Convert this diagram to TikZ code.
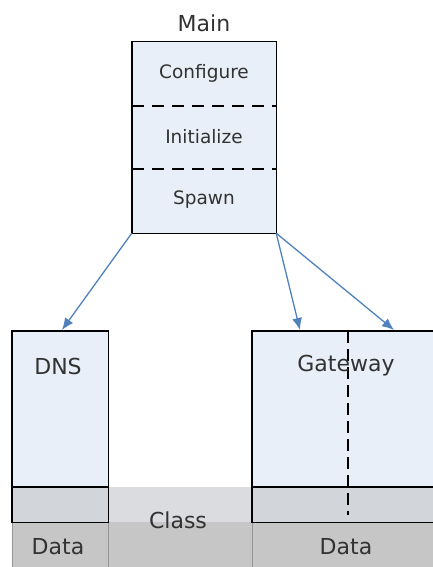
\documentclass[tikz,border=0pt]{standalone}
\usepackage{fontspec}
\setmainfont{DejaVu Sans}
\usetikzlibrary{calc}
\usetikzlibrary{shapes,arrows.meta}

\definecolor{boxblue}{RGB}{233,239,248}
\definecolor{linkblue}{RGB}{79,129,189}
\definecolor{bandgray}{RGB}{210,213,218}
\definecolor{classgray}{RGB}{218,220,224}
\definecolor{datagray}{RGB}{198,198,198}
\definecolor{edgegray}{RGB}{150,150,150}
\definecolor{labelgray}{RGB}{50,50,50}

\begin{document}
\begin{tikzpicture}[x=1pt,y=-1pt,
    boxfill/.style={fill=boxblue,draw=none,inner sep=0pt},
    outline/.style={draw=black,line width=1.4pt},
    link/.style={draw=linkblue,line width=1.3pt,-{Latex[length=12pt,width=10pt]}},
    biglabel/.style={font=\fontsize{22}{24}\selectfont,text=labelgray},
    smalllabel/.style={font=\fontsize{18.5}{20}\selectfont,text=labelgray}]
    \clip (0,0) rectangle (433,567);
    % boxes (fill only, outlines come after the band)
    \node [boxfill,minimum width=144pt,minimum height=191pt] (main) at (204,137.5) {};
    \node [boxfill,minimum width=96pt,minimum height=191pt] (dns) at (60,426.5) {};
    \node [boxfill,minimum width=188pt,minimum height=191pt] (gateway) at (346,426.5) {};
    \coordinate (D1) at (12,487);
    \coordinate (D2) at (108,487);
    \coordinate (G1) at (252,487);
    \coordinate (G2) at (433,487);
    \coordinate (B0) at (12,522);
    \coordinate (B1) at (108,522);
    \coordinate (B2) at (252,522);
    \coordinate (B3) at (433,522);
    % class / data band
      \fill [bandgray] (D1) rectangle (B1);
      \fill [classgray] (D2) rectangle (B2);
      \fill [bandgray] (G1) rectangle (B3);
      \fill [datagray] (B0) rectangle (433,567);
      \draw [edgegray,line width=0.8pt] (B0) -- (12,567);
      \draw [edgegray,line width=0.6pt] (B1) -- (108,567);
      \draw [edgegray,line width=0.8pt] (B2) -- (252,567);
    % outlines
      \draw [outline] (main.north west) rectangle (main.south east);
      \draw [outline] (dns.north west) rectangle (dns.south east);
      \draw [outline] (gateway.north west) rectangle (gateway.south east);
      \draw [outline] (D1) -- (D2);
      \draw [outline] (G1) -- (G2);
      \draw [outline,dash pattern=on 12pt off 8pt] (132,106) -- (276,106);
      \draw [outline,dash pattern=on 12pt off 8pt] (132,169) -- (276,169);
      \draw [outline,dash pattern=on 12pt off 6pt] (348,331) -- (348,515);
    % links
    \coordinate (dnsin) at (62,330);
    \coordinate (gwin1) at (300,330);
    \coordinate (gwin2) at (394,330);
      \draw [link] (main.south west) -- (dnsin);
      \draw [link] (main.south east) -- (gwin1);
      \draw [link] (main.south east) -- (gwin2);
    % labels
      \node [biglabel] (mainname) at (204,23) {Main};
      \node [smalllabel] (configure) at (204,73) {Configure};
      \node [smalllabel] (initialize) at (204,137) {Initialize};
      \node [smalllabel] (spawn) at (204,200) {Spawn};
      \node [biglabel] (dnsname) at (58,366) {DNS};
      \node [biglabel] (gatewayname) at (346,366) {Gateway};
      \node [biglabel] (classname) at (178,520) {Class};
      \node [biglabel] (dnsdata) at (58,547) {Data};
      \node [biglabel] (gatewaydata) at (346,547) {Data};
\end{tikzpicture}
\end{document}
